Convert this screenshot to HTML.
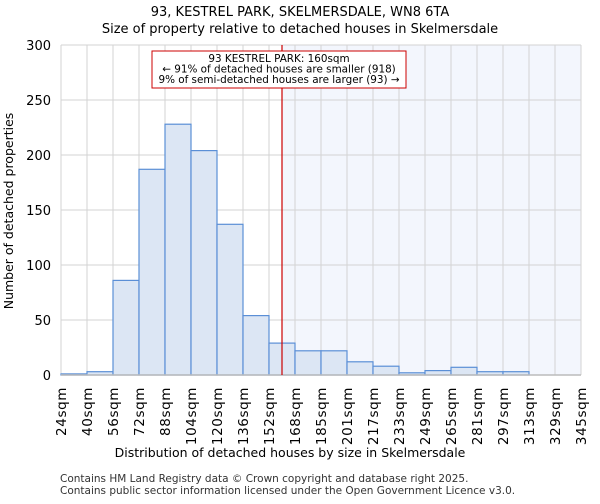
<!DOCTYPE html>
<html><head><meta charset="utf-8"><style>
body{margin:0;background:#fff;font-family:"DejaVu Sans","Liberation Sans",sans-serif}
</style></head><body>
<svg id="chart" width="600" height="500" xmlns="http://www.w3.org/2000/svg" font-family="DejaVu Sans, Liberation Sans, sans-serif">
<text x="300" y="16" text-anchor="middle" font-size="13">93, KESTREL PARK, SKELMERSDALE, WN8 6TA</text>
<text x="300" y="33" text-anchor="middle" font-size="13">Size of property relative to detached houses in Skelmersdale</text>
<g id="grid"></g><g id="bars"></g><g id="axes"></g>
<text x="290" y="457" text-anchor="middle" font-size="12.5">Distribution of detached houses by size in Skelmersdale</text>
<text transform="translate(13,211) rotate(-90)" text-anchor="middle" font-size="12.5">Number of detached properties</text>
<text x="60" y="482" font-size="10.5" fill="#333">Contains HM Land Registry data © Crown copyright and database right 2025.</text>
<text x="60" y="494" font-size="10.5" fill="#333">Contains public sector information licensed under the Open Government Licence v3.0.</text>
</svg>
<script>
const categories=["24sqm","40sqm","56sqm","72sqm","88sqm","104sqm","120sqm","136sqm","152sqm","168sqm","185sqm","201sqm","217sqm","233sqm","249sqm","265sqm","281sqm","297sqm","313sqm","329sqm","345sqm"];
const counts=[1,3,86,187,228,204,137,54,29,22,22,12,8,2,4,7,3,3,0,0];
const yTicks=[0,50,100,150,200,250,300];
const markerBin=8.5;
const L=61,R=581,T=45,B=375,NS="http://www.w3.org/2000/svg";
const bw=(R-L)/counts.length;
const x=i=>L+i*bw, y=v=>B-(v/300)*(B-T);
function mk(p,t,a){const e=document.createElementNS(NS,t);for(const k in a)e.setAttribute(k,a[k]);p.appendChild(e);return e;}
const svg=document.getElementById('chart'),g=document.getElementById('grid'),bg=document.getElementById('bars'),ax=document.getElementById('axes');
const mx=x(markerBin);
const sh=mk(g,'rect',{x:mx,y:T,width:R-mx,height:B-T,fill:'#f3f6fd'});


for(let i=0;i<=counts.length;i++){const l=mk(g,'line',{x1:x(i),x2:x(i),y1:T,y2:B,stroke:'#d3d3d3','stroke-width':1});

}
yTicks.forEach(v=>{const l=mk(g,'line',{x1:L,x2:R,y1:y(v),y2:y(v),stroke:'#d3d3d3','stroke-width':1});


const t=mk(ax,'text',{x:L-10,y:y(v)+5,'text-anchor':'end','font-size':13});t.textContent=v;

});
counts.forEach((c,i)=>{const r=mk(bg,'rect',{x:x(i),y:y(c),width:bw,height:B-y(c),fill:'#dce6f4',stroke:'#5b8fd6','stroke-width':1.2});

});
const ln=mk(ax,'line',{x1:L,x2:R,y1:B,y2:B,stroke:'#bbb','stroke-width':1.5});


categories.forEach((c,i)=>{const t=mk(ax,'text',{transform:`translate(${x(i)+5},387) rotate(-90)`,'text-anchor':'end','font-size':13.5,'letter-spacing':'0.6'});t.textContent=c;

});
const rl=mk(ax,'line',{x1:mx,x2:mx,y1:T,y2:B,stroke:'#cc0000','stroke-width':1.2});


const box=mk(ax,'rect',{x:152,y:51,width:254,height:37,fill:'#fff',stroke:'#cc0000','stroke-width':1});


["93 KESTREL PARK: 160sqm","← 91% of detached houses are smaller (918)","9% of semi-detached houses are larger (93) →"].forEach((s,i)=>{const t=mk(ax,'text',{x:279,y:62+i*10.5,'text-anchor':'middle','font-size':10.4});t.textContent=s;

});
</script>
</body></html>
